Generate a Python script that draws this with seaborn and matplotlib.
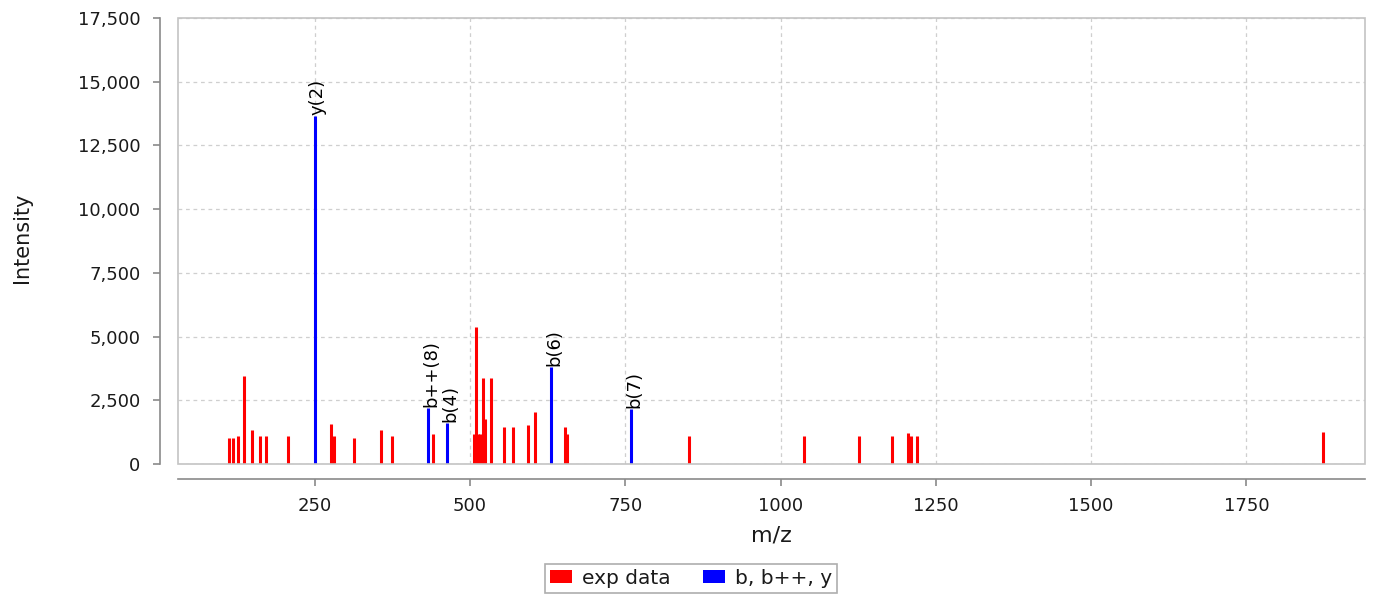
import numpy as np
import pandas as pd
import matplotlib
matplotlib.use("Agg")
import matplotlib.pyplot as plt
from matplotlib.patches import Patch, Rectangle
from matplotlib.ticker import FuncFormatter
import seaborn as sns

# Experimental peaks (m/z, intensity)
exp_mz = [112.5, 118.5, 126.5, 136.7, 149.0, 162.0, 171.6, 207.0, 276.2, 281.6,
          312.8, 357.0, 375.0, 441.2, 506.0, 510.5, 513.0, 516.0, 520.4, 524.0,
          533.3, 555.5, 569.0, 594.0, 604.0, 653.0, 657.0, 852.0, 1037.7, 1125.7,
          1179.3, 1205.6, 1210.0, 1219.0, 1872.8]
exp_int = [1030, 1030, 1110, 3460, 1345, 1110, 1110, 1110, 1580, 1110,
           1030, 1345, 1110, 1190, 1190, 5360, 1190, 1190, 3385, 1750,
           3385, 1440, 1440, 1520, 2050, 1440, 1190, 1110, 1110, 1110,
           1110, 1200, 1110, 1110, 1270]

# Annotated fragment ions
ion_mz = [250.5, 432.4, 463.3, 631.0, 759.7]
ion_int = [13650, 2210, 1595, 3790, 2145]
ion_labels = ["y(2)", "b++(8)", "b(4)", "b(6)", "b(7)"]

series_names = ["exp data", "b, b++, y"]
series_colors = ["#ff0000", "#0000ff"]

x_ticks = [250, 500, 750, 1000, 1250, 1500, 1750]
y_ticks = [0, 2500, 5000, 7500, 10000, 12500, 15000, 17500]

peaks = pd.concat([
    pd.DataFrame({"mz": exp_mz, "intensity": exp_int, "series": series_names[0]}),
    pd.DataFrame({"mz": ion_mz, "intensity": ion_int, "series": series_names[1]}),
], ignore_index=True)

sns.set_theme(style="white")
plt.rcParams["font.family"] = ["DejaVu Sans"]

W, H = 1382, 594
fig = plt.figure(figsize=(W / 100, H / 100), dpi=100)
ax = fig.add_axes([178 / W, 1 - 464 / H, (1365 - 178) / W, (464 - 18) / H])
ax.set_facecolor("white")

palette = dict(zip(series_names, series_colors))
for name, grp in peaks.groupby("series", sort=False):
    ax.vlines(grp["mz"], 0, grp["intensity"], colors=palette[name], linewidth=2.2, zorder=3)

# fragment labels, rotated above each ion peak
for mz, inten, lab in zip(ion_mz, ion_int, ion_labels):
    ax.annotate(lab, (mz, inten), xytext=(3, 1), textcoords="offset pixels",
                rotation=90, ha="center", va="bottom", fontsize=13, color="#000000",
                zorder=4)

ax.set_xlim(30, 1941)
ax.set_ylim(0, 17500)
ax.set_xticks(x_ticks)
ax.set_yticks(y_ticks)
ax.yaxis.set_major_formatter(FuncFormatter(lambda v, p: f"{int(v):,}"))

ax.grid(True, color="#cfcfcf", linestyle=(0, (3, 3)), linewidth=0.9, zorder=0)
ax.set_axisbelow(True)

for side in ["top", "right"]:
    ax.spines[side].set_visible(False)
ax.spines["left"].set_position(("outward", 13))
ax.spines["bottom"].set_position(("outward", 11))
for side in ["left", "bottom"]:
    ax.spines[side].set_color("#8a8a8a")
    ax.spines[side].set_linewidth(1.2)

# light frame around the plotting area
ax.add_patch(Rectangle((0, 0), 1, 1, transform=ax.transAxes, fill=False,
                       edgecolor="#c4c4c4", linewidth=1.2, zorder=5, clip_on=False))

ax.tick_params(axis="both", which="major", direction="out", length=5, width=1.2,
               color="#8a8a8a", labelcolor="#1a1a1a", labelsize=13,
               bottom=True, left=True)
ax.tick_params(axis="y", pad=9)
ax.tick_params(axis="x", pad=8)

ax.set_xlabel("m/z", fontsize=16, color="#1a1a1a", labelpad=7)
ax.set_ylabel("")
fig.text(22 / W, 1 - 238 / H, "Intensity", rotation=90, ha="center", va="center",
         fontsize=15, color="#1a1a1a")

handles = [Patch(facecolor=c, edgecolor="none") for c in series_colors]
leg = fig.legend(handles, series_names, loc="lower center", bbox_to_anchor=(0.5, 0.002),
                 ncol=2, frameon=True, fancybox=False, fontsize=14.5,
                 handlelength=1.1, handleheight=0.6, handletextpad=0.5,
                 columnspacing=1.6, borderpad=0.25, borderaxespad=0)
leg.get_frame().set_edgecolor("#9a9a9a")
leg.get_frame().set_linewidth(1.2)
for t in leg.get_texts():
    t.set_color("#1a1a1a")

fig.savefig("out.png", dpi=100, facecolor="white")
